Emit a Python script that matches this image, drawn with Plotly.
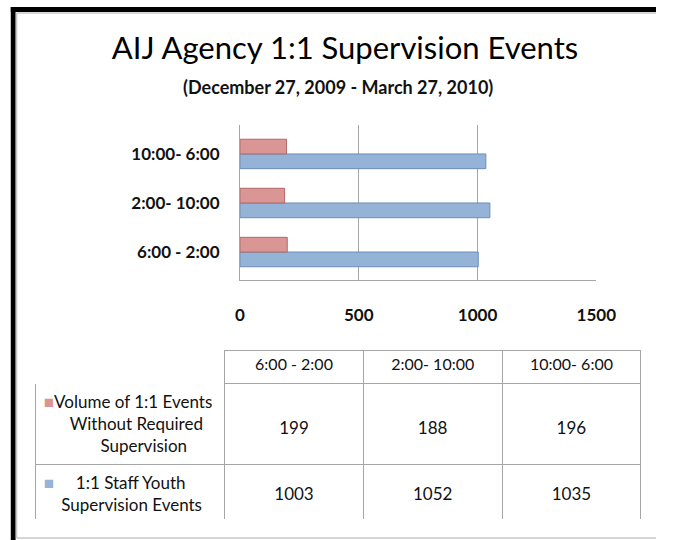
import plotly.graph_objects as go

categories = ["6:00 - 2:00", "2:00- 10:00", "10:00- 6:00"]
without_supervision = [199, 188, 196]
staff_youth = [1003, 1052, 1035]
series_labels = [
    ["Volume of 1:1 Events", "Without Required", "Supervision"],
    ["1:1 Staff Youth", "Supervision Events"],
]
x_ticks = [0, 500, 1000, 1500]

RED = "#D99694"
RED_DARK = "#B06A68"
BLUE = "#95B3D7"
BLUE_DARK = "#6A8DBA"
GRID = "#A6A6A6"
FONT = "Lato"
NB = "\u00a0"

W, H = 676, 540


def px(x):
    return x / W


def py(y):
    return 1 - y / H


fig = go.Figure()
fig.add_trace(go.Bar(
    y=categories, x=staff_youth, orientation="h", name="1:1 Staff Youth Supervision Events",
    marker=dict(color=BLUE, line=dict(color=BLUE_DARK, width=1)), hoverinfo="x+y"))
fig.add_trace(go.Bar(
    y=categories, x=without_supervision, orientation="h",
    name="Volume of 1:1 Events Without Required Supervision",
    marker=dict(color=RED, line=dict(color=RED_DARK, width=1)), hoverinfo="x+y"))

# data table below the chart; label lines indented to look centred
label_col = [
    f"<span style='color:{RED}'>■</span>" + series_labels[0][0]
    + "<br>" + NB * 6 + series_labels[0][1]
    + "<br>" + NB * 13 + series_labels[0][2],
    f"<span style='color:{BLUE}'>■</span>" + NB * 5 + series_labels[1][0]
    + "<br>" + NB * 4 + series_labels[1][1],
]
table_cols = [label_col]
for i in range(len(categories)):
    table_cols.append([f"{NB}<br>{NB}<br><span style='font-size:17px'>{without_supervision[i]}</span>",
                       f"{NB}<br><span style='font-size:17px'>{staff_youth[i]}</span>"])

fig.add_trace(go.Table(
    domain=dict(x=[px(32), px(661)], y=[py(519), py(350)]),
    columnwidth=[196, 144, 144, 144],
    header=dict(values=[""] + categories,
                fill_color="white",
                line=dict(color=["white", GRID, GRID, GRID], width=1),
                font=dict(family=FONT, size=16, color="#111111"),
                align="center", height=33),
    cells=dict(values=table_cols,
               fill_color="white",
               line=dict(color=GRID, width=1),
               font=dict(family=FONT, size=[17, 12, 12, 12], color="#111111"),
               align=["left", "center", "center", "center"], height=56),
))

fig.update_layout(
    width=W, height=H,
    margin=dict(l=0, r=0, t=0, b=0),
    paper_bgcolor="white", plot_bgcolor="white",
    showlegend=False,
    barmode="group", bargap=0.4, bargroupgap=0,
    font=dict(family=FONT, color="#111111"),
    xaxis=dict(domain=[px(244), px(614)], range=[0, 1500], tickvals=x_ticks,
               showgrid=True, gridcolor=GRID, gridwidth=1, zeroline=False,
               showline=True, linecolor=GRID, linewidth=1,
               tickfont=dict(family=FONT, size=17, weight="bold", color="#111111"),
               ticklabelstandoff=20, fixedrange=True),
    yaxis=dict(domain=[py(280), py(125)], type="category", categoryorder="array",
               categoryarray=categories, range=[-0.57, 2.59],
               showgrid=False, showline=True, linecolor=GRID, linewidth=1,
               tickfont=dict(family=FONT, size=17, weight="bold", color="#111111"),
               ticklabelstandoff=16, fixedrange=True),
    title=dict(text="AIJ Agency 1:1 Supervision Events", x=px(345), y=py(48),
               xanchor="center", yanchor="middle",
               font=dict(family=FONT, size=31, color="#000000")),
    annotations=[dict(text="(December 27, 2009 - March 27, 2010)", xref="paper", yref="paper",
                      x=px(346), y=py(87), xanchor="center", yanchor="middle", showarrow=False,
                      font=dict(family=FONT, size=18, weight="bold", color="#111111"))],
    shapes=[
        dict(type="rect", xref="paper", yref="paper", x0=px(6), x1=px(11), y0=0, y1=py(7),
             fillcolor="black", line=dict(width=0), layer="above"),
        dict(type="rect", xref="paper", yref="paper", x0=px(6), x1=1, y0=py(12), y1=py(7),
             fillcolor="black", line=dict(width=0), layer="above"),
        dict(type="line", xref="paper", yref="paper", x0=px(12), x1=px(12), y0=py(538), y1=py(13),
             line=dict(color="#C8C8C8", width=1.5), layer="above"),
        dict(type="line", xref="paper", yref="paper", x0=px(12), x1=1, y0=py(13), y1=py(13),
             line=dict(color="#C8C8C8", width=1.5), layer="above"),
        dict(type="line", xref="paper", yref="paper", x0=px(12), x1=1, y0=py(538), y1=py(538),
             line=dict(color="#C8C8C8", width=1.5), layer="above"),
    ],
)

post = "document.body.style.margin='0';document.body.style.overflow='hidden';"
fig.write_html("out.html", config={"displayModeBar": False}, post_script=post)
